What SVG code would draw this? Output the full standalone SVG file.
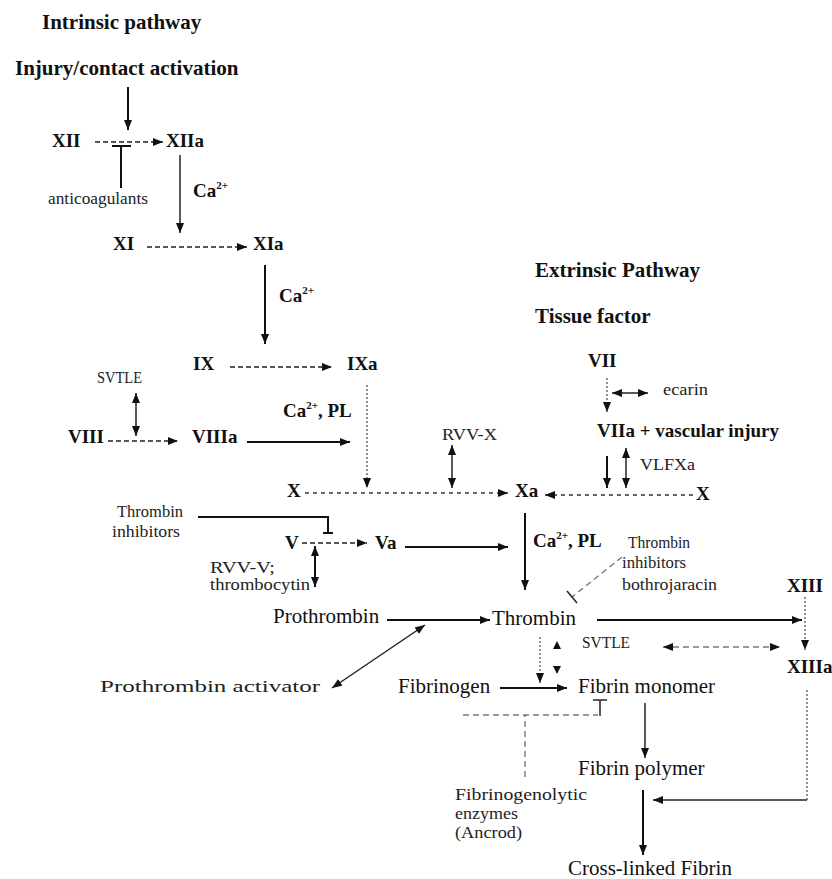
<svg xmlns="http://www.w3.org/2000/svg" width="832" height="879" viewBox="0 0 832 879">
  <style>
    text { font-family: "Liberation Serif", "Times New Roman", serif; fill: #111; }
    .h { font-size: 21px; font-weight: bold; }
    .n { font-size: 19px; font-weight: bold; }
    .t { font-size: 21px; }
    .ca { font-size: 19px; font-weight: bold; }
    .s { font-size: 16px; fill: #222; }
    .sup { font-size: 11px; }
    .solid { stroke: #111; stroke-width: 2; fill: none; }
    .thin { stroke: #222; stroke-width: 1.5; fill: none; }
    .dash { stroke: #222; stroke-width: 1.6; fill: none; stroke-dasharray: 5 3; }
    .dot { stroke: #333; stroke-width: 1.6; fill: none; stroke-dasharray: 4 4; }
    .fine { stroke: #555; stroke-width: 1.3; fill: none; stroke-dasharray: 2 2; }
    .grey { stroke: #777; stroke-width: 1.4; fill: none; stroke-dasharray: 6 4; }
    .head { fill: #111; }
  </style>
  <defs>
    <marker id="arr" viewBox="0 0 10 8" refX="10" refY="4" markerWidth="10" markerHeight="8" markerUnits="userSpaceOnUse" orient="auto-start-reverse">
      <path d="M0,0 L10,4 L0,8 z" class="head"/>
    </marker>
  </defs>

  <!-- connectors -->
  <g id="connectors">
    <!-- intrinsic cascade -->
    <line class="solid" x1="128" y1="87" x2="128" y2="130" marker-end="url(#arr)"/>
    <line class="dash" x1="95" y1="142" x2="163" y2="142" marker-end="url(#arr)"/>
    <line class="solid" x1="121" y1="188" x2="121" y2="146"/>
    <line class="solid" x1="112" y1="146" x2="131" y2="146"/>
    <line class="thin" x1="180" y1="155" x2="180" y2="233" marker-end="url(#arr)"/>
    <line class="dash" x1="147" y1="247" x2="247" y2="247" marker-end="url(#arr)"/>
    <line class="solid" x1="265" y1="265" x2="265" y2="344" marker-end="url(#arr)"/>
    <line class="dash" x1="230" y1="367" x2="332" y2="367" marker-end="url(#arr)"/>
    <line class="fine" x1="367" y1="385" x2="367" y2="488" marker-end="url(#arr)"/>
    <line class="dash" x1="108" y1="441" x2="178" y2="441" marker-end="url(#arr)"/>
    <line class="thin" x1="136" y1="393" x2="136" y2="436" marker-start="url(#arr)" marker-end="url(#arr)"/>
    <line class="solid" x1="247" y1="442" x2="350" y2="442" marker-end="url(#arr)"/>
    <line class="dot" x1="305" y1="493" x2="508" y2="493" marker-end="url(#arr)"/>
    <line class="thin" x1="452" y1="445" x2="452" y2="488" marker-start="url(#arr)" marker-end="url(#arr)"/>

    <!-- extrinsic cascade -->
    <line class="dot" x1="693" y1="495" x2="545" y2="495" marker-end="url(#arr)"/>
    <line class="fine" x1="607" y1="378" x2="607" y2="412" marker-end="url(#arr)"/>
    <line class="thin" x1="612" y1="393" x2="648" y2="393" marker-start="url(#arr)" marker-end="url(#arr)"/>
    <line class="solid" x1="607" y1="456" x2="607" y2="488" marker-end="url(#arr)"/>
    <line class="thin" x1="626" y1="448" x2="626" y2="488" marker-start="url(#arr)" marker-end="url(#arr)"/>

    <!-- common pathway -->
    <line class="solid" x1="525" y1="513" x2="525" y2="590" marker-end="url(#arr)"/>
    <path class="solid" d="M198,517 H328 V533"/>
    <line class="solid" x1="323" y1="533" x2="333" y2="533"/>
    <line class="dash" x1="302" y1="543" x2="367" y2="543" marker-end="url(#arr)"/>
    <line class="solid" x1="315" y1="546" x2="315" y2="587" marker-start="url(#arr)" marker-end="url(#arr)"/>
    <line class="solid" x1="405" y1="547" x2="508" y2="547" marker-end="url(#arr)"/>
    <line class="grey" x1="622" y1="557" x2="572" y2="597"/>
    <line class="thin" x1="567" y1="591" x2="577" y2="603"/>
    <line class="solid" x1="387" y1="620" x2="490" y2="620" marker-end="url(#arr)"/>
    <line class="thin" x1="332" y1="688" x2="425" y2="625" marker-start="url(#arr)" marker-end="url(#arr)"/>
    <line class="solid" x1="597" y1="620" x2="802" y2="620" marker-end="url(#arr)"/>
    <line class="fine" x1="805" y1="597" x2="805" y2="650" marker-end="url(#arr)"/>
    <line class="fine" x1="540" y1="637" x2="540" y2="683" marker-end="url(#arr)"/>
    <path class="head" d="M553,649 L557,641 L561,649 z"/>
    <path class="head" d="M553,666 L557,674 L561,666 z"/>
    <line class="grey" x1="663" y1="647" x2="780" y2="647" marker-start="url(#arr)" marker-end="url(#arr)"/>
    <line class="solid" x1="500" y1="688" x2="567" y2="688" marker-end="url(#arr)"/>
    <line class="grey" x1="525" y1="777" x2="525" y2="715"/>
    <line class="grey" x1="463" y1="715" x2="598" y2="715"/>
    <line class="thin" x1="600" y1="716" x2="600" y2="700"/>
    <line class="thin" x1="593" y1="700" x2="607" y2="700"/>
    <line class="thin" x1="645" y1="703" x2="645" y2="758" marker-end="url(#arr)"/>
    <line class="fine" x1="807" y1="690" x2="807" y2="800"/>
    <line class="thin" x1="807" y1="800" x2="653" y2="800" marker-end="url(#arr)"/>
    <line class="solid" x1="643" y1="790" x2="643" y2="855" marker-end="url(#arr)"/>
  </g>

  <!-- headings -->
  <g id="intrinsic-title"><text class="h" x="42" y="29">Intrinsic pathway</text></g>
  <g id="injury"><text class="h" x="15" y="75">Injury/contact activation</text></g>
  <g id="extrinsic-title"><text class="h" x="535" y="277">Extrinsic Pathway</text></g>
  <g id="tissue-factor"><text class="h" x="535" y="323">Tissue factor</text></g>

  <!-- factors -->
  <g id="XII"><text class="n" x="52" y="147">XII</text></g>
  <g id="XIIa"><text class="n" x="166" y="147">XIIa</text></g>
  <g id="anticoagulants"><text class="s" x="48" y="204" textLength="100" lengthAdjust="spacingAndGlyphs">anticoagulants</text></g>
  <g id="ca1"><text class="ca" x="193" y="197">Ca<tspan class="sup" dy="-8">2+</tspan></text></g>
  <g id="XI"><text class="n" x="113" y="250">XI</text></g>
  <g id="XIa"><text class="n" x="253" y="250">XIa</text></g>
  <g id="ca2"><text class="ca" x="279" y="302">Ca<tspan class="sup" dy="-8">2+</tspan></text></g>
  <g id="IX"><text class="n" x="193" y="370">IX</text></g>
  <g id="IXa"><text class="n" x="347" y="370">IXa</text></g>
  <g id="svtle1"><text class="s" x="97" y="383" textLength="45" lengthAdjust="spacingAndGlyphs">SVTLE</text></g>
  <g id="ca-pl1"><text class="ca" x="283" y="417">Ca<tspan class="sup" dy="-8">2+</tspan><tspan dy="8">, PL</tspan></text></g>
  <g id="VIII"><text class="n" x="68" y="443">VIII</text></g>
  <g id="VIIIa"><text class="n" x="192" y="443">VIIIa</text></g>
  <g id="rvv-x"><text class="s" x="442" y="440" textLength="55" lengthAdjust="spacingAndGlyphs">RVV-X</text></g>
  <g id="X-left"><text class="n" x="287" y="497">X</text></g>
  <g id="Xa"><text class="n" x="515" y="497">Xa</text></g>
  <g id="X-right"><text class="n" x="696" y="500">X</text></g>

  <g id="VII"><text class="n" x="588" y="367">VII</text></g>
  <g id="ecarin"><text class="s" x="663" y="395" textLength="45" lengthAdjust="spacingAndGlyphs">ecarin</text></g>
  <g id="VIIa"><text class="n" x="597" y="437">VIIa + vascular injury</text></g>
  <g id="vlfxa"><text class="s" x="640" y="470" textLength="55" lengthAdjust="spacingAndGlyphs">VLFXa</text></g>

  <g id="thrombin-inhibitors-1">
    <text class="s" x="117" y="517" textLength="66" lengthAdjust="spacingAndGlyphs">Thrombin</text>
    <text class="s" x="112" y="537" textLength="68" lengthAdjust="spacingAndGlyphs">inhibitors</text>
  </g>
  <g id="V"><text class="n" x="285" y="549">V</text></g>
  <g id="Va"><text class="n" x="375" y="549">Va</text></g>
  <g id="rvv-v">
    <text class="s" x="210" y="573" textLength="65" lengthAdjust="spacingAndGlyphs">RVV-V;</text>
    <text class="s" x="210" y="590" textLength="100" lengthAdjust="spacingAndGlyphs">thrombocytin</text>
  </g>
  <g id="ca-pl2"><text class="ca" x="533" y="547">Ca<tspan class="sup" dy="-8">2+</tspan><tspan dy="8">, PL</tspan></text></g>
  <g id="thrombin-inhibitors-2">
    <text class="s" x="628" y="548" textLength="62" lengthAdjust="spacingAndGlyphs">Thrombin</text>
    <text class="s" x="622" y="568" textLength="64" lengthAdjust="spacingAndGlyphs">inhibitors</text>
    <text class="s" x="622" y="590" textLength="95" lengthAdjust="spacingAndGlyphs">bothrojaracin</text>
  </g>
  <g id="XIII"><text class="n" x="787" y="592">XIII</text></g>
  <g id="prothrombin"><text class="t" x="273" y="623">Prothrombin</text></g>
  <g id="thrombin"><text class="t" x="492" y="625">Thrombin</text></g>
  <g id="svtle2"><text class="s" x="582" y="648" textLength="48" lengthAdjust="spacingAndGlyphs">SVTLE</text></g>
  <g id="XIIIa"><text class="n" x="787" y="673">XIIIa</text></g>
  <g id="prothrombin-activator"><text class="s" x="100" y="692" textLength="220" lengthAdjust="spacingAndGlyphs">Prothrombin activator</text></g>
  <g id="fibrinogen"><text class="t" x="398" y="693">Fibrinogen</text></g>
  <g id="fibrin-monomer"><text class="t" x="578" y="693">Fibrin monomer</text></g>
  <g id="fibrin-polymer"><text class="t" x="578" y="775">Fibrin polymer</text></g>
  <g id="fibrinogenolytic">
    <text class="s" x="455" y="800" textLength="132" lengthAdjust="spacingAndGlyphs">Fibrinogenolytic</text>
    <text class="s" x="455" y="819" textLength="63" lengthAdjust="spacingAndGlyphs">enzymes</text>
    <text class="s" x="455" y="838" textLength="67" lengthAdjust="spacingAndGlyphs">(Ancrod)</text>
  </g>
  <g id="cross-linked"><text class="t" x="568" y="875">Cross-linked Fibrin</text></g>
</svg>
